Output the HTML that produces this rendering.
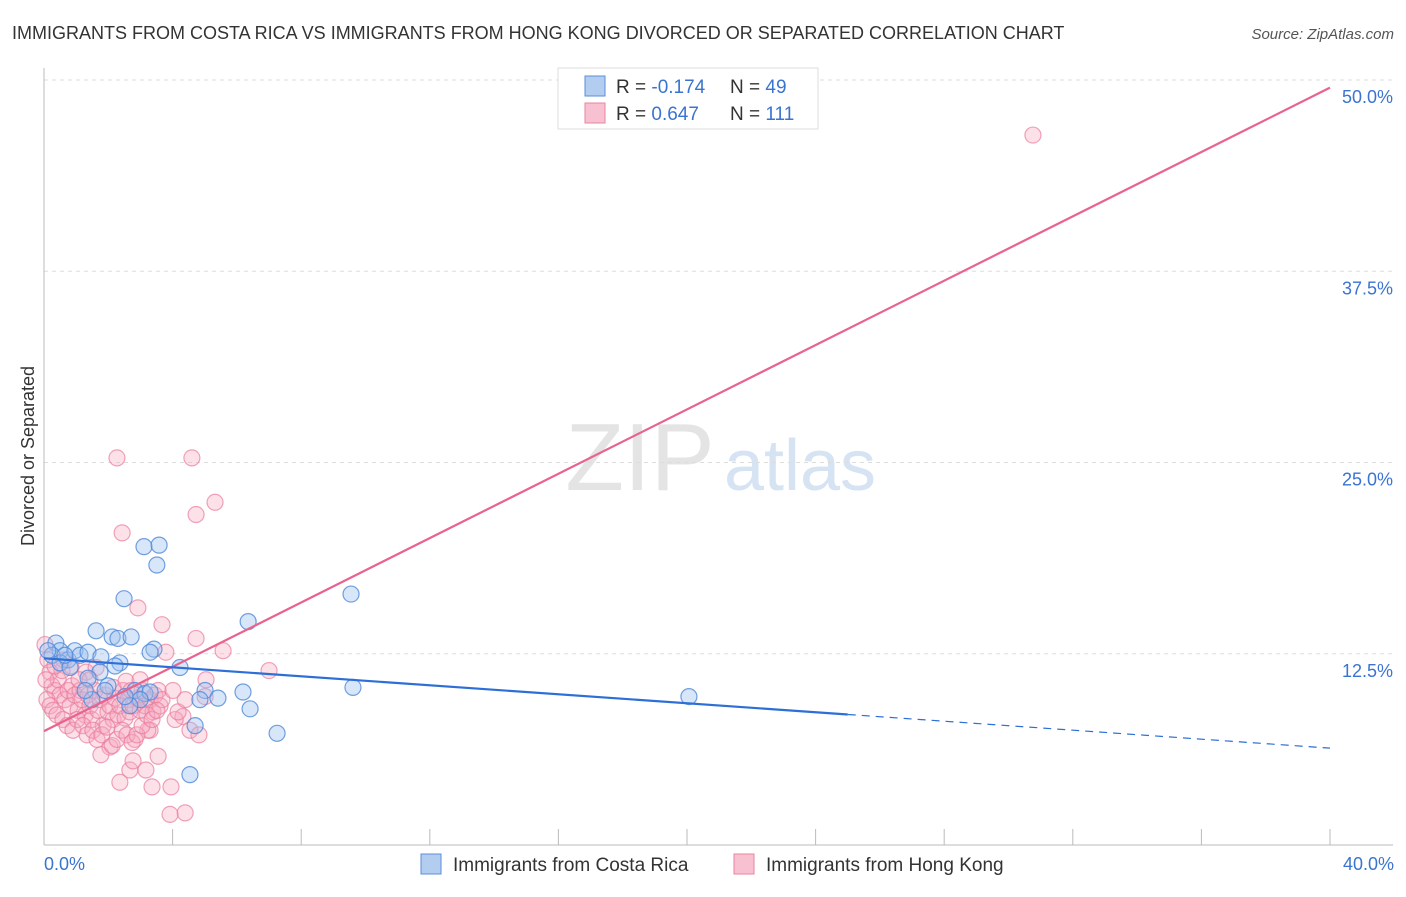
<!DOCTYPE html>
<html><head><meta charset="utf-8"><style>
body{margin:0;background:#fff;font-family:"Liberation Sans",sans-serif;}
svg text{font-family:"Liberation Sans",sans-serif;}
</style></head><body>
<svg id="chart" width="1406" height="892" viewBox="0 0 1406 892" xmlns="http://www.w3.org/2000/svg">
<text x="12" y="39" font-size="18" fill="#333">IMMIGRANTS FROM COSTA RICA VS IMMIGRANTS FROM HONG KONG DIVORCED OR SEPARATED CORRELATION CHART</text>
<text x="1394" y="39" font-size="15" fill="#555" font-style="italic" text-anchor="end">Source: ZipAtlas.com</text>
<text x="640" y="490" font-size="96" fill="#e4e4e4" font-family="Liberation Serif" text-anchor="middle">ZIP</text>
<text x="800" y="490" font-size="72" fill="#d6e3f3" text-anchor="middle">atlas</text>
<g id="grid"></g>
<g id="axes"></g>
<text transform="translate(34,456) rotate(-90)" font-size="18" fill="#333" text-anchor="middle">Divorced or Separated</text>
<text x="44" y="870" font-size="18" fill="#3a74d0">0.0%</text>
<text x="1394" y="870" font-size="18" fill="#3a74d0" text-anchor="end">40.0%</text>
<g id="pts"></g>
<g id="lines"></g>
<g>
<rect x="558" y="68" width="260" height="61" fill="#fff" stroke="#ddd"/>
<rect x="585" y="76" width="20" height="20" fill="#b3cdf1" stroke="#5b8fd8"/>
<rect x="585" y="103" width="20" height="20" fill="#f8c1d1" stroke="#e8859f"/>
<text x="616" y="93" font-size="19" fill="#333">R = <tspan fill="#3a74d0">-0.174</tspan><tspan x="730">N = </tspan><tspan fill="#3a74d0">49</tspan></text>
<text x="616" y="120" font-size="19" fill="#333">R = <tspan fill="#3a74d0"> 0.647</tspan><tspan x="730">N = </tspan><tspan fill="#3a74d0">111</tspan></text>
</g>
<g>
<rect x="421" y="854" width="20" height="20" fill="#b3cdf1" stroke="#5b8fd8"/>
<text x="453" y="871" font-size="19" fill="#333">Immigrants from Costa Rica</text>
<rect x="734" y="854" width="20" height="20" fill="#f8c1d1" stroke="#e8859f"/>
<text x="766" y="871" font-size="19" fill="#333">Immigrants from Hong Kong</text>
</g>
</svg>
<script>
const yTicks=[12.5,25,37.5,50];
const yTickLabels=["12.5%","25.0%","37.5%","50.0%"];
const xTicks=[0,4,8,12,16,20,24,28,32,36,40];
const blueX=[0.37,0.50,0.25,0.75,0.96,1.12,1.37,1.62,1.77,2.12,2.30,2.49,2.71,2.36,1.74,1.37,1.99,3.11,3.58,3.51,3.42,3.30,4.23,6.35,6.19,6.41,7.25,4.54,9.55,9.61,20.06,2.83,3.14,3.30,2.99,5.01,4.85,5.41,4.70,0.50,0.81,0.12,0.65,2.21,1.49,2.67,1.28,1.90,2.52];
const blueY=[13.2,12.7,12.4,12.1,12.7,12.4,12.6,14.0,12.3,13.6,13.5,16.1,13.6,11.9,11.3,10.9,10.4,19.5,19.6,18.3,12.8,12.6,11.6,14.6,10.0,8.9,7.3,4.6,16.4,10.3,9.7,10.1,9.9,10.0,9.5,10.1,9.5,9.6,7.8,11.9,11.6,12.7,12.4,11.7,9.5,9.1,10.1,10.1,9.7];
const pinkX=[30.76,2.27,4.60,5.32,4.73,2.43,2.92,3.67,4.73,5.57,7.00,3.79,5.04,5.01,4.32,4.54,4.82,3.95,4.39,3.92,2.67,2.36,3.36,3.17,2.77,2.05,1.77,3.30,3.55,
0.03,0.12,0.19,0.25,0.34,0.44,0.50,0.56,0.65,0.75,0.81,0.87,0.96,1.06,1.12,1.18,1.28,1.37,1.43,1.49,1.59,1.68,1.74,1.84,1.90,1.99,2.05,2.15,2.21,2.30,2.36,2.46,2.52,2.61,2.67,2.77,2.83,2.92,2.99,3.05,3.14,3.23,3.30,3.39,3.45,3.55,3.61,3.67,0.09,
0.19,0.28,0.40,0.59,0.72,0.90,1.03,1.21,1.34,1.52,1.65,1.80,1.96,2.12,2.27,2.43,2.58,2.74,2.89,3.05,3.20,3.36,3.51,4.08,4.17,4.39,0.62,0.84,1.31,1.62,0.06,0.34,1.09,1.43,2.15,2.55,2.71,2.99,4.01];
const pinkY=[46.4,25.3,25.3,22.4,21.6,20.4,15.5,14.4,13.5,12.7,11.4,12.6,10.8,9.7,8.4,7.5,7.2,3.8,2.1,2.0,4.9,4.1,3.8,4.9,5.5,6.4,5.9,7.5,5.8,
13.1,12.1,11.3,10.4,10.1,10.8,9.8,11.4,9.5,10.1,9.1,10.4,9.8,8.8,10.1,9.5,8.5,9.8,9.1,8.2,10.1,8.8,9.5,7.8,9.8,8.7,9.1,8.2,9.6,8.5,9.1,10.1,8.3,9.5,8.7,9.1,6.9,9.6,8.8,10.1,9.1,7.5,9.5,8.7,9.8,10.1,9.1,9.5,9.5,
9.1,8.8,8.5,8.2,7.8,7.5,8.2,7.8,7.2,7.5,6.9,7.2,7.7,6.5,6.9,7.5,7.2,6.7,7.2,7.8,8.5,8.2,8.8,8.2,8.7,9.5,12.1,11.7,11.3,11.6,10.8,11.7,10.8,10.8,10.3,10.7,10.1,10.8,10.1];
const pinkTrend=[7.44,49.5];
const blueTrend=[12.2,6.33];
const blueSolidEnd=25.0;
const X0=44,X1=1330,Y0=845,Y50=80;
const sx=v=>X0+(v/40)*(X1-X0);
const sy=v=>Y0-(v/50)*(Y0-Y50);
const NS="http://www.w3.org/2000/svg";
function mk(tag,attrs,parent){const e=document.createElementNS(NS,tag);for(const k in attrs)e.setAttribute(k,attrs[k]);document.getElementById(parent).appendChild(e);return e;}
yTicks.forEach((t,i)=>{
 const g=mk('line',{x1:X0,x2:1393,y1:sy(t),y2:sy(t),stroke:'#ddd','stroke-dasharray':'4,4'},'grid');
 
 
 const tx=mk('text',{x:1393,y:sy(t)+23,'font-size':18,fill:'#3a74d0','text-anchor':'end'},'grid');
 tx.textContent=yTickLabels[i];
 
 
});
const ax=mk('line',{x1:X0,x2:X0,y1:68,y2:Y0,stroke:'#bbb'},'axes');


const bx=mk('line',{x1:X0,x2:1393,y1:Y0,y2:Y0,stroke:'#bbb'},'axes');


xTicks.forEach(t=>{
 const l=mk('line',{x1:sx(t),x2:sx(t),y1:Y0-16,y2:Y0,stroke:'#bbb'},'axes');
 
 
});
pinkX.forEach((x,i)=>{
 const c=mk('circle',{cx:sx(x),cy:sy(pinkY[i]),r:8,fill:'#f6a9c0','fill-opacity':0.35,stroke:'#e97c9c','stroke-opacity':0.7,'stroke-width':1.2},'pts');
 
 
});
blueX.forEach((x,i)=>{
 const c=mk('circle',{cx:sx(x),cy:sy(blueY[i]),r:8,fill:'#9cc0ef','fill-opacity':0.4,stroke:'#4f88d8','stroke-opacity':0.8,'stroke-width':1.2},'pts');
 
 
});
const pl=mk('line',{x1:sx(0),y1:sy(pinkTrend[0]),x2:sx(40),y2:sy(pinkTrend[1]),stroke:'#e8638d','stroke-width':2.2},'lines');


const bAt=x=>blueTrend[0]+(blueTrend[1]-blueTrend[0])*x/40;
const bl=mk('line',{x1:sx(0),y1:sy(blueTrend[0]),x2:sx(blueSolidEnd),y2:sy(bAt(blueSolidEnd)),stroke:'#2d6fd6','stroke-width':2.2},'lines');


const bd=mk('line',{x1:sx(blueSolidEnd),y1:sy(bAt(blueSolidEnd)),x2:sx(40),y2:sy(blueTrend[1]),stroke:'#2d6fd6','stroke-width':1.2,'stroke-dasharray':'8,6'},'lines');


</script>
</body></html>
